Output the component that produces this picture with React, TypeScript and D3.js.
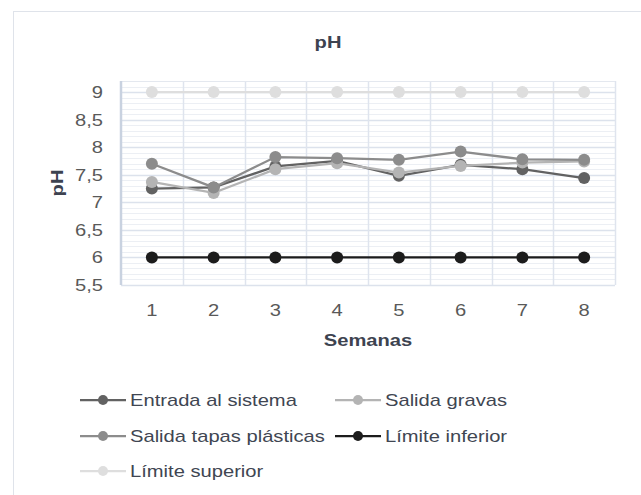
import React from 'react';
import * as d3 from 'd3';

const weeks = ['1', '2', '3', '4', '5', '6', '7', '8'];
const entrada = [7.25, 7.27, 7.65, 7.75, 7.48, 7.68, 7.6, 7.44];
const gravas = [7.37, 7.17, 7.6, 7.71, 7.54, 7.66, 7.72, 7.74];
const tapas = [7.7, 7.27, 7.82, 7.8, 7.77, 7.92, 7.78, 7.77];
const inferior = [6, 6, 6, 6, 6, 6, 6, 6];
const superior = [9, 9, 9, 9, 9, 9, 9, 9];
const yTicks = [5.5, 6, 6.5, 7, 7.5, 8, 8.5, 9];

const series = [
  { name: 'Entrada al sistema', color: '#626262', values: entrada },
  { name: 'Salida gravas', color: '#b4b4b4', values: gravas },
  { name: 'Salida tapas plásticas', color: '#8c8c8c', values: tapas },
  { name: 'Límite inferior', color: '#1c1c1c', values: inferior },
  { name: 'Límite superior', color: '#dedede', values: superior },
];

const FONT = '"Liberation Sans", Arial, sans-serif';
const SX = 1.26; // reference text is drawn a bit wide

const App: React.FC = () => {
  const svgRef = React.useRef<SVGSVGElement>(null);

  React.useEffect(() => {
    const svg = d3.select(svgRef.current);
    svg.selectAll('*').remove();

    const left = 121;
    const right = 615;
    const top = 81;
    const bottom = 285;

    const xScale = d3.scaleBand().domain(weeks).range([left, right]);
    const yScale = d3.scaleLinear().domain([5.5, 9.2]).range([bottom, top]);
    const cx = (w: string) => xScale(w)! + xScale.bandwidth() / 2;

    // outer chart border
    svg
      .append('rect')
      .attr('x', 13.5)
      .attr('y', 11.5)
      .attr('width', 640)
      .attr('height', 500)
      .attr('fill', '#fff')
      .attr('stroke', '#dfe3ea');

    // title
    svg
      .append('text')
      .attr('transform', `translate(328,48) scale(${SX},1)`)
      .attr('text-anchor', 'middle')
      .attr('font-family', FONT)
      .attr('font-weight', 'bold')
      .attr('font-size', 16)
      .attr('fill', '#3d4350')
      .text('pH');

    // minor grid
    const minor = d3.range(5.5, 9.21, 0.1);
    svg
      .append('g')
      .selectAll('line')
      .data(minor)
      .enter()
      .append('line')
      .attr('x1', left)
      .attr('x2', right)
      .attr('y1', (d) => Math.round(yScale(d)) + 0.5)
      .attr('y2', (d) => Math.round(yScale(d)) + 0.5)
      .attr('stroke', '#eceff4');

    // major grid
    svg
      .append('g')
      .selectAll('line')
      .data(yTicks)
      .enter()
      .append('line')
      .attr('x1', left)
      .attr('x2', right)
      .attr('y1', (d) => Math.round(yScale(d)) + 0.5)
      .attr('y2', (d) => Math.round(yScale(d)) + 0.5)
      .attr('stroke', '#dce2ec')
      .attr('stroke-width', 1.5);

    // vertical grid at category boundaries
    const bounds = weeks.slice(1).map((w) => xScale(w)!).concat([right]);
    svg
      .append('g')
      .selectAll('line')
      .data(bounds)
      .enter()
      .append('line')
      .attr('x1', (d) => Math.round(d) + 0.5)
      .attr('x2', (d) => Math.round(d) + 0.5)
      .attr('y1', top)
      .attr('y2', bottom)
      .attr('stroke', '#dfe4ee')
      .attr('stroke-width', 1.5);

    // top edge of plot area
    svg
      .append('line')
      .attr('x1', left)
      .attr('x2', right)
      .attr('y1', top + 0.5)
      .attr('y2', top + 0.5)
      .attr('stroke', '#e4e8ef');

    // y axis line
    svg
      .append('line')
      .attr('x1', left)
      .attr('x2', left)
      .attr('y1', top)
      .attr('y2', bottom)
      .attr('stroke', '#c9d2e0')
      .attr('stroke-width', 2.5);

    // y tick labels
    svg
      .append('g')
      .selectAll('text')
      .data(yTicks)
      .enter()
      .append('text')
      .attr('transform', (d) => `translate(103,${yScale(d) + 6}) scale(${SX},1)`)
      .attr('text-anchor', 'end')
      .attr('font-family', FONT)
      .attr('font-size', 16)
      .attr('fill', '#595959')
      .text((d) => String(d).replace('.', ','));

    // x tick labels
    svg
      .append('g')
      .selectAll('text')
      .data(weeks)
      .enter()
      .append('text')
      .attr('transform', (d) => `translate(${cx(d)},316) scale(${SX},1)`)
      .attr('text-anchor', 'middle')
      .attr('font-family', FONT)
      .attr('font-size', 16)
      .attr('fill', '#595959')
      .text((d) => d);

    // axis titles
    svg
      .append('text')
      .attr('transform', `translate(368,346) scale(${SX},1)`)
      .attr('text-anchor', 'middle')
      .attr('font-family', FONT)
      .attr('font-weight', 'bold')
      .attr('font-size', 16)
      .attr('fill', '#3d4350')
      .text('Semanas');

    svg
      .append('text')
      .attr('transform', `translate(63,183) rotate(-90) scale(${SX},1)`)
      .attr('text-anchor', 'middle')
      .attr('font-family', FONT)
      .attr('font-weight', 'bold')
      .attr('font-size', 16)
      .attr('fill', '#3d4350')
      .text('pH');

    // lines and markers
    const line = d3
      .line<number>()
      .x((_, i) => cx(weeks[i]))
      .y((d) => yScale(d));

    series.forEach((s) => {
      const g = svg.append('g');
      g.append('path')
        .attr('d', line(s.values))
        .attr('fill', 'none')
        .attr('stroke', s.color)
        .attr('stroke-width', 2.25);
      g.selectAll('circle')
        .data(s.values)
        .enter()
        .append('circle')
        .attr('cx', (_, i) => cx(weeks[i]))
        .attr('cy', (d) => yScale(d))
        .attr('r', 6)
        .attr('fill', s.color);
    });

    // legend
    const legendPos = [
      [80, 400],
      [335, 400],
      [80, 436],
      [335, 436],
      [80, 471],
    ];
    series.forEach((s, i) => {
      const [lx, ly] = legendPos[i];
      const g = svg.append('g');
      g.append('line')
        .attr('x1', lx)
        .attr('x2', lx + 46)
        .attr('y1', ly)
        .attr('y2', ly)
        .attr('stroke', s.color)
        .attr('stroke-width', 2.25);
      g.append('circle')
        .attr('cx', lx + 23)
        .attr('cy', ly)
        .attr('r', 5)
        .attr('fill', s.color);
      g.append('text')
        .attr('transform', `translate(${lx + 50},${ly + 6}) scale(${SX},1)`)
        .attr('font-family', FONT)
        .attr('font-size', 16)
        .attr('fill', '#404652')
        .text(s.name);
    });
  }, []);

  return (
    <svg
      ref={svgRef}
      width={641}
      height={495}
      style={{ position: 'absolute', left: 0, top: 0, background: '#fff' }}
    />
  );
};

export default App;
